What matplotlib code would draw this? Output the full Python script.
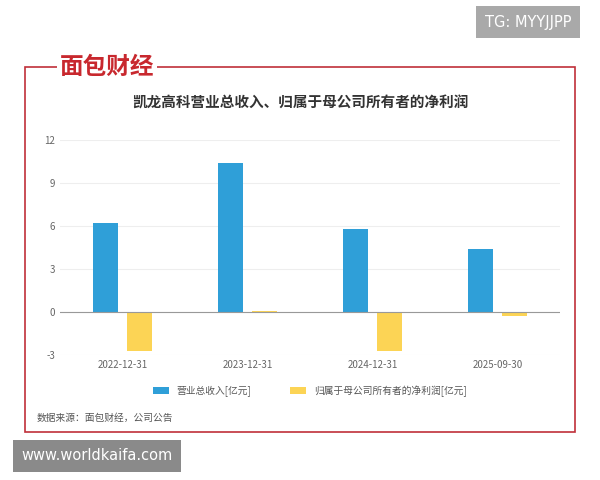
import numpy as np
import matplotlib
matplotlib.use('Agg')
from matplotlib import pyplot as plt
from matplotlib.patches import Rectangle

plt.rcParams['font.family'] = ['Noto Sans CJK SC', 'DejaVu Sans']
plt.rcParams['axes.unicode_minus'] = False

dates = ['2022-12-31', '2023-12-31', '2024-12-31', '2025-09-30']
revenue = [6.2, 10.4, 5.8, 4.4]
net_profit = [-2.75, 0.08, -2.75, -0.25]
yticks = [-3, 0, 3, 6, 9, 12]

fig = plt.figure(figsize=(6, 4.8), dpi=100)
fig.patch.set_facecolor('white')

# red frame
fig.patches.append(Rectangle((25/600, 1-432/480), 550/600, 365/480, transform=fig.transFigure,
                             fill=False, edgecolor='#c0303a', linewidth=1.2))
# logo
fig.text(60/600, 1-67/480, '面包财经', fontsize=17, color='#c8282e', fontweight='bold',
         va='center', ha='left', bbox=dict(facecolor='white', edgecolor='none', pad=2))
# TG box
fig.text(528/600, 1-22/480, 'TG: MYYJJPP', fontsize=10.5, color='white', ha='center', va='center',
         family='DejaVu Sans',
         bbox=dict(facecolor='#a9a9a9', edgecolor='none', boxstyle='square,pad=0.6'))
# site box
fig.text(97/600, 1-456/480, 'www.worldkaifa.com', fontsize=10.5, color='white', ha='center', va='center',
         family='DejaVu Sans',
         bbox=dict(facecolor='#8a8a8a', edgecolor='none', boxstyle='square,pad=0.6'))

fig.text(300/600, 1-103/480, '凯龙高科营业总收入、归属于母公司所有者的净利润', fontsize=10.5,
         fontweight='bold', color='#333333', ha='center', va='center')

ax = fig.add_axes([60/600, 1-355/480, 500/600, 215/480])
x = np.arange(len(dates))
w = 0.2
ax.bar(x - 0.135, revenue, w, color='#2f9fd8', label='营业总收入[亿元]')
ax.bar(x + 0.135, net_profit, w, color='#fcd455', label='归属于母公司所有者的净利润[亿元]')
ax.set_xlim(-0.5, 3.5)
ax.set_ylim(-3, 12)
ax.set_yticks(yticks)
ax.set_xticks(x)
ax.set_xticklabels(dates)
ax.tick_params(axis='both', labelsize=7, colors='#666666', length=0)
ax.yaxis.grid(True, color='#eeeeee', linewidth=0.8)
ax.set_axisbelow(True)
for s in ['top', 'right', 'left', 'bottom']:
    ax.spines[s].set_visible(False)
ax.axhline(0, color='#999999', linewidth=0.8)
ax.legend(loc='upper center', bbox_to_anchor=(0.5, -0.1), ncol=2, frameon=False,
          fontsize=7, handlelength=1.6, handleheight=0.8, columnspacing=4, labelcolor='#555555')

fig.text(37/600, 1-418/480, '数据来源：面包财经，公司公告', fontsize=7, color='#555555', va='center')

fig.savefig('out.png', dpi=100)
